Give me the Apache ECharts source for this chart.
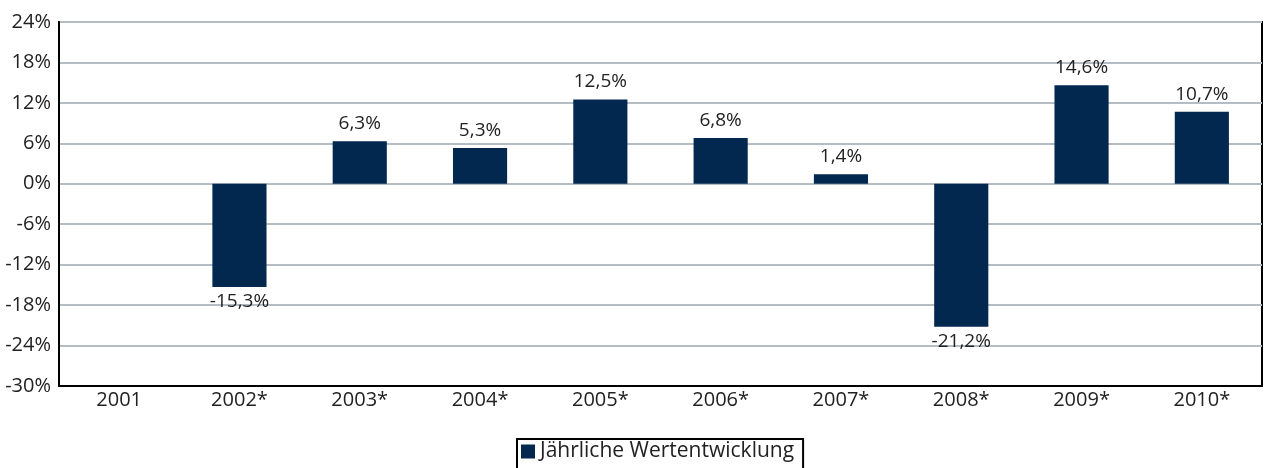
<!DOCTYPE html>
<html lang="de" style="height: 100%">
<head>
  <meta charset="utf-8">
</head>
<body style="height: 100%; margin: 0">
  <div id="container" style="width: 1266px; height: 468px"></div>
  <script type="text/javascript" src="https://fastly.jsdelivr.net/npm/echarts@6/dist/echarts.min.js"></script>
  <script type="text/javascript">
    // data
    var years = ['2001', '2002*', '2003*', '2004*', '2005*', '2006*', '2007*', '2008*', '2009*', '2010*'];
    var returns = [null, -15.3, 6.3, 5.3, 12.5, 6.8, 1.4, -21.2, 14.6, 10.7];
    var seriesName = 'Jährliche Wertentwicklung';

    var FONT = 'Open Sans';
    var NAVY = '#03284f';

    var myChart = echarts.init(document.getElementById('container'), null, { renderer: 'canvas' });

    function fmt(v) {
      return v.toFixed(1).replace('.', ',') + '%';
    }

    var barData = returns.map(function (v) {
      if (v === null) return null;
      return {
        value: v,
        label: { position: v < 0 ? 'bottom' : 'top', distance: v < 0 ? 5 : 8 }
      };
    });

    var option = {
      animation: false,
      textStyle: { fontFamily: FONT },
      grid: {
        left: 59, right: 4, top: 22, bottom: 82,
        show: true,
        borderColor: '#000',
        borderWidth: 2,
        backgroundColor: '#fff'
      },
      legend: {
        data: [seriesName],
        top: 439,
        left: 517,
        icon: 'rect',
        itemWidth: 14,
        itemHeight: 14,
        itemGap: 6,
        padding: [2, 9, 10, 4],
        borderColor: '#000',
        borderWidth: 2,
        borderRadius: 0,
        textStyle: { fontFamily: FONT, fontSize: 21, color: '#222' }
      },
      xAxis: {
        type: 'category',
        data: years,
        axisLine: { onZero: false, lineStyle: { color: '#000', width: 2 } },
        axisTick: { show: false },
        axisLabel: { color: '#222', fontSize: 20, fontFamily: FONT, margin: 4 }
      },
      yAxis: {
        type: 'value',
        min: -30,
        max: 24,
        interval: 6,
        axisLine: { show: true, lineStyle: { color: '#000', width: 2 } },
        axisTick: { show: false },
        axisLabel: {
          color: '#222', fontSize: 20, fontFamily: FONT, margin: 8,
          formatter: function (v) { return v + '%'; }
        },
        splitLine: { lineStyle: { color: '#b4bcc4', width: 2 } }
      },
      series: [{
        name: seriesName,
        type: 'bar',
        data: barData,
        barWidth: '45%',
        itemStyle: { color: NAVY },
        label: {
          show: true,
          color: '#222',
          fontSize: 19,
          fontFamily: FONT,
          formatter: function (p) { return fmt(p.value); }
        }
      }]
    };

    myChart.setOption(option);
  </script>
</body>
</html>
